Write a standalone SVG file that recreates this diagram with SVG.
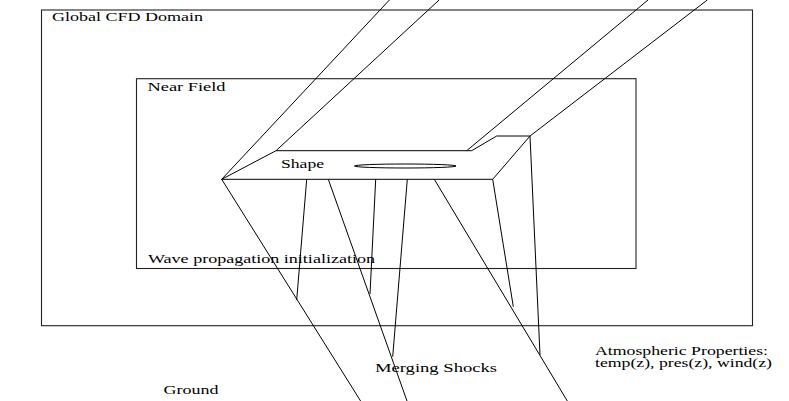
<svg xmlns="http://www.w3.org/2000/svg" width="789" height="401" viewBox="0 0 789 401">
<style>
text { font-family: "Liberation Serif", "Times New Roman", serif; font-size: 12px; fill: #000; }
.small { font-size: 11.5px; }
.box { fill: none; stroke: #222; stroke-width: 1.1; }
.ln { fill: none; stroke: #000; stroke-width: 1; }
</style>
<rect x="0" y="0" width="789" height="401" fill="#fff"/>
<g id="global-domain">
  <rect class="box" x="41.5" y="10" width="711" height="315.7"/>
  <text x="52" y="20.5" textLength="151" lengthAdjust="spacingAndGlyphs">Global CFD Domain</text>
</g>
<g id="near-field">
  <rect class="box" x="136.5" y="78.7" width="499.5" height="189.8"/>
  <text x="147.5" y="90.5" textLength="78" lengthAdjust="spacingAndGlyphs">Near Field</text>
  <text x="148" y="262.5" textLength="227" lengthAdjust="spacingAndGlyphs">Wave propagation initialization</text>
</g>
<g id="shape">
  <polyline class="ln" points="221.7,179.3 276,150.7 471.7,150.7 496.7,136 530,136 492.7,179.3 221.7,179.3"/>
  <ellipse class="ln" cx="405.2" cy="166" rx="50.8" ry="2" stroke="#444"/>
  <text x="281" y="167.5" textLength="43" lengthAdjust="spacingAndGlyphs">Shape</text>
</g>
<g id="connectors">
  <line class="ln" x1="389.4" y1="0" x2="221.7" y2="179.3"/>
  <line class="ln" x1="439.1" y1="0" x2="276" y2="150.7"/>
  <line class="ln" x1="648" y1="0" x2="466.7" y2="150.7"/>
  <line class="ln" x1="707.3" y1="0" x2="530" y2="136"/>
  <line class="ln" x1="221.7" y1="179.3" x2="360.6" y2="401"/>
  <line class="ln" x1="306.7" y1="179.3" x2="296.7" y2="300"/>
  <line class="ln" x1="328.3" y1="179.3" x2="407" y2="401"/>
  <line class="ln" x1="375.7" y1="179.3" x2="370" y2="294"/>
  <line class="ln" x1="407.3" y1="179.3" x2="392.7" y2="356.7"/>
  <line class="ln" x1="434.3" y1="179.3" x2="567.3" y2="401"/>
  <line class="ln" x1="492.7" y1="179.3" x2="513.3" y2="306.7"/>
  <line class="ln" x1="530" y1="136" x2="540" y2="355"/>
</g>
<g id="labels">
  <text x="375" y="372" textLength="122" lengthAdjust="spacingAndGlyphs">Merging Shocks</text>
  <text x="163.5" y="394" textLength="55" lengthAdjust="spacingAndGlyphs">Ground</text>
  <text class="small" x="595" y="355" textLength="173" lengthAdjust="spacingAndGlyphs">Atmospheric Properties:</text>
  <text class="small" x="595" y="367" textLength="177" lengthAdjust="spacingAndGlyphs">temp(z), pres(z), wind(z)</text>
</g>
</svg>
